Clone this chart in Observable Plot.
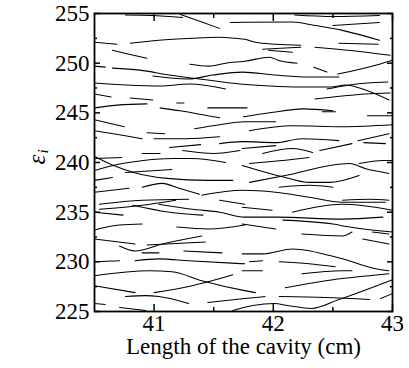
<!DOCTYPE html>
<html>
<head>
<meta charset="utf-8">
<script src="https://cdn.jsdelivr.net/npm/d3@7"></script>
<script src="https://cdn.jsdelivr.net/npm/@observablehq/plot@0.6"></script>
<style>
  html, body { margin: 0; padding: 0; background: #fff; }
  svg text { font-family: "Liberation Serif", "Times New Roman", serif; font-variant-numeric: normal; }
</style>
</head>
<body>
<div id="chart"></div>
<script>
// Eigenvalue branches, upper band (x: cavity length in cm, y: epsilon_i)
const topCurves = [
  [[40.76,254.85],[40.98,254.8],[41.24,254.6]],
  [[41.22,254.9],[41.40,254.14],[41.55,253.5]],
  [[41.64,254.1],[42.16,254.14],[42.35,253.8],[42.58,253.3],[42.89,252.3]],
  [[42.18,254.85],[42.50,254.7],[42.89,254.8]],
  [[42.50,253.8],[42.89,254.1]],
  [[40.50,252.1],[40.69,251.9]],
  [[40.80,252.0],[41.04,252.3],[41.32,252.5],[41.55,252.6],[41.68,252.5],[41.76,252.4],[41.85,252.1],[42.02,251.9],[42.23,251.8]],
  [[42.35,251.6],[42.54,251.4],[42.98,250.8]],
  [[42.55,252.0],[42.88,251.9]],
  [[41.91,251.4],[42.06,251.5],[42.23,251.6]],
  [[41.96,251.3],[42.16,251.1]],
  [[40.65,251.3],[40.79,250.9],[40.94,250.5]],
  [[41.30,249.9],[41.46,249.7],[41.60,250.0],[41.76,250.2],[41.97,250.6],[42.04,250.3],[42.20,250.0]],
  [[42.34,249.6],[42.45,249.1]],
  [[42.54,248.9],[42.89,249.9],[43.0,250.3]],
  [[40.50,249.7],[40.59,249.6]],
  [[40.65,249.5],[40.88,249.3],[41.13,248.8],[41.45,248.3],[41.72,247.9],[41.97,247.7],[42.23,247.6],[42.48,247.6],[42.61,247.8],[42.75,247.4],[42.97,246.3]],
  [[40.99,248.7],[41.28,248.4],[41.49,248.8],[41.74,249.1],[42.02,248.8],[42.30,248.6],[42.55,248.6]],
  [[42.45,247.4],[42.64,247.8],[42.79,248.0],[42.96,248.1]],
  [[42.35,246.4],[42.58,246.7],[42.77,246.9],[42.98,247.0]],
  [[40.50,248.0],[40.77,247.8],[41.05,247.7],[41.30,247.9],[41.60,247.4]],
  [[40.50,246.9],[40.64,246.6]],
  [[40.80,246.5],[40.99,246.3]],
  [[41.19,246.0],[41.25,246.0]],
  [[40.50,245.5],[40.71,245.8],[40.94,245.9]],
  [[41.05,245.5],[41.22,245.2],[41.45,244.7],[41.55,244.5]],
  [[41.45,245.5],[41.78,245.5]],
  [[41.75,244.6],[41.97,245.0],[42.25,245.4],[42.50,245.2]],
  [[42.41,245.1],[42.52,245.1]],
  [[42.79,244.7],[43.0,244.7]]
];

// middle band
const midCurves = [
  [[40.50,244.3],[40.75,243.6]],
  [[41.34,243.4],[41.55,243.8],[41.76,244.1],[42.02,244.1]],
  [[41.80,243.2],[42.16,243.7],[42.58,243.6],[43.0,243.8]],
  [[40.50,243.2],[40.71,242.8],[40.90,242.4]],
  [[40.94,243.0],[41.09,242.9]],
  [[41.0,242.4],[41.26,242.4],[41.55,242.6]],
  [[41.55,241.9],[41.74,242.1],[42.02,242.0],[42.24,242.4],[42.55,242.2]],
  [[40.90,240.9],[41.05,240.9]],
  [[41.24,241.2],[41.50,240.9],[41.72,241.2]],
  [[41.13,241.5],[41.39,241.8]],
  [[41.74,241.4],[42.02,241.7]],
  [[41.91,240.9],[42.16,241.4],[42.33,241.0]],
  [[42.39,241.2],[42.66,241.9]],
  [[42.71,242.2],[42.97,242.9]],
  [[42.76,242.0],[42.94,241.9]],
  [[40.50,240.6],[40.66,239.7],[40.83,239.0],[41.11,238.4],[41.45,238.2],[41.66,238.2]],
  [[40.50,239.2],[40.69,239.8],[40.91,240.2],[41.15,240.4],[41.32,240.4],[41.60,240.0]],
  [[40.50,240.4],[40.73,240.5]],
  [[40.76,239.0],[41.15,239.3]],
  [[41.80,239.9],[42.08,240.2],[42.30,240.5]],
  [[41.74,239.7],[42.10,238.5],[42.30,238.0],[42.47,238.0],[42.72,238.7]],
  [[41.80,238.0],[42.10,238.7],[42.64,239.9],[42.77,239.4],[42.97,238.9]],
  [[42.72,239.9],[42.92,240.2],[43.0,240.2]],
  [[40.50,238.2],[40.65,238.5]],
  [[40.50,237.0],[40.79,237.4]],
  [[40.90,237.5],[41.07,237.9],[41.21,237.4],[41.38,236.8]],
  [[41.40,236.7],[41.74,237.2],[42.02,237.0],[42.30,236.5],[42.58,236.0],[42.94,236.0]],
  [[42.05,237.5],[42.30,237.7],[42.50,237.5]],
  [[42.58,236.2],[42.81,236.3],[42.97,236.2]],
  [[40.54,235.8],[40.90,236.2],[41.29,236.3]],
  [[40.54,235.3],[40.90,235.7],[41.18,236.2]],
  [[41.04,235.8],[41.32,235.3],[41.55,235.0],[41.76,234.5],[42.02,234.5],[42.58,234.3],[42.92,234.5]],
  [[41.55,236.2],[41.76,235.8]],
  [[41.74,235.5],[41.99,235.2]],
  [[42.16,235.0],[42.58,235.8],[43.0,235.2]],
  [[40.50,235.0],[40.74,234.7]],
  [[40.82,235.7],[41.13,235.0],[41.41,234.7]]
];

// lower band
const lowCurves = [
  [[41.74,233.8],[42.02,233.3]],
  [[42.08,234.2],[42.50,233.8],[42.64,233.5],[43.0,233.0]],
  [[40.50,233.2],[40.71,233.7],[40.90,233.8]],
  [[41.19,233.5],[41.46,233.3],[41.76,233.7]],
  [[42.24,232.8],[42.58,232.6],[42.66,233.0]],
  [[42.83,233.0],[42.97,232.8]],
  [[42.75,232.3],[42.97,231.8]],
  [[40.50,232.3],[40.84,231.8]],
  [[40.71,231.6],[40.84,231.1],[41.07,231.8],[41.40,232.6]],
  [[40.94,231.7],[41.43,232.0]],
  [[40.90,230.9],[41.04,230.9]],
  [[41.25,231.1],[41.57,230.9]],
  [[40.50,230.0],[40.71,230.1]],
  [[40.84,230.1],[41.04,230.3],[41.29,230.1],[41.76,229.8]],
  [[41.74,230.8],[41.91,230.8],[42.16,231.3],[42.58,230.3],[42.86,229.3],[42.97,229.1]],
  [[41.80,230.0],[41.91,230.1]],
  [[42.05,230.0],[42.30,229.8],[42.52,229.5]],
  [[41.74,229.1],[41.91,229.1]],
  [[42.24,228.8],[42.58,229.1],[42.66,229.1]],
  [[40.50,228.6],[40.96,229.1],[41.15,229.0],[41.40,228.1],[41.76,227.1],[41.85,226.9]],
  [[40.50,227.6],[40.84,226.9]],
  [[41.0,226.9],[41.32,227.6],[41.66,228.7]],
  [[42.10,227.4],[42.44,228.1],[42.97,228.8]],
  [[40.76,226.5],[40.93,226.6],[41.04,226.5],[41.29,225.8]],
  [[41.45,225.9],[41.76,226.3],[41.93,226.5]],
  [[40.50,225.8],[40.59,225.7]],
  [[40.71,225.4],[40.93,225.1]],
  [[42.05,226.5],[42.44,226.4],[42.81,226.2]],
  [[41.66,225.1],[41.83,225.6],[42.01,225.8],[42.12,225.6],[42.32,225.3],[42.55,226.2],[43.0,228.2]],
  [[42.90,226.3],[43.0,226.8]]
];

const xMajor = [41, 42, 43];
const xMinor = [41.5, 42.5];
const yMajor = [225, 230, 235, 240, 245, 250, 255];
const yMinor = [227.5, 232.5, 237.5, 242.5, 247.5, 252.5];
const xTitle = ["Length of the cavity (cm)"];
const yTitle = ["ε"];
const yTitleSub = ["i"];

const series = [...topCurves, ...midCurves, ...lowCurves];
const rows = series.flatMap((pts, i) => pts.map(([x, y]) => ({id: i, x, y})));

const font = "Liberation Serif";
const blank = () => "";
const intFmt = d3.format("d");

const chart = Plot.plot({
  width: 409,
  height: 368,
  marginLeft: 94,
  marginRight: 17,
  marginTop: 13,
  marginBottom: 57,
  x: {domain: [40.5, 43], label: null},
  y: {domain: [225, 255], label: null},
  style: {fontFamily: font, fontSize: "23px", color: "black", background: "white"},
  marks: [
    Plot.line(rows, {x: "x", y: "y", z: "id", stroke: "black", strokeWidth: 1.05, curve: "monotone-x"}),
    Plot.frame({stroke: "black", strokeWidth: 1.8}),
    // tick labels
    Plot.text(xMajor, {x: d => d, text: d => intFmt(d), frameAnchor: "bottom", dy: 19, fontSize: 23, fontFamily: font, fill: "black"}),
    Plot.text(yMajor, {y: d => d, text: d => intFmt(d), frameAnchor: "left", textAnchor: "end", dx: -5, fontSize: 23, fontFamily: font, fill: "black"}),
    // inward ticks
    Plot.axisX(xMajor, {anchor: "bottom", tickSize: -7, tickFormat: blank, label: null, strokeWidth: 1.5}),
    Plot.axisX(xMajor, {anchor: "top", tickSize: -7, tickFormat: blank, label: null, strokeWidth: 1.5}),
    Plot.axisX(xMinor, {anchor: "bottom", tickSize: -4, tickFormat: blank, label: null, strokeWidth: 1.5}),
    Plot.axisX(xMinor, {anchor: "top", tickSize: -4, tickFormat: blank, label: null, strokeWidth: 1.5}),
    Plot.axisY(yMajor, {anchor: "left", tickSize: -6, tickFormat: blank, label: null, strokeWidth: 1.5}),
    Plot.axisY(yMajor, {anchor: "right", tickSize: -6, tickFormat: blank, label: null, strokeWidth: 1.5}),
    Plot.axisY(yMinor, {anchor: "left", tickSize: -3, tickFormat: blank, label: null, strokeWidth: 1.5}),
    Plot.axisY(yMinor, {anchor: "right", tickSize: -3, tickFormat: blank, label: null, strokeWidth: 1.5}),
    // axis titles
    Plot.text(xTitle, {frameAnchor: "bottom", dy: 42, fontSize: 23, fontFamily: font, fill: "black"}),
    Plot.text(yTitle, {frameAnchor: "left", dx: -58, dy: 2, rotate: -90, fontSize: 25, fontStyle: "italic", fontFamily: font, fill: "black"}),
    Plot.text(yTitleSub, {frameAnchor: "left", dx: -51, dy: -9, rotate: -90, fontSize: 15, fontStyle: "italic", fontFamily: font, fill: "black"})
  ]
});

document.getElementById("chart").appendChild(chart);
</script>
</body>
</html>
